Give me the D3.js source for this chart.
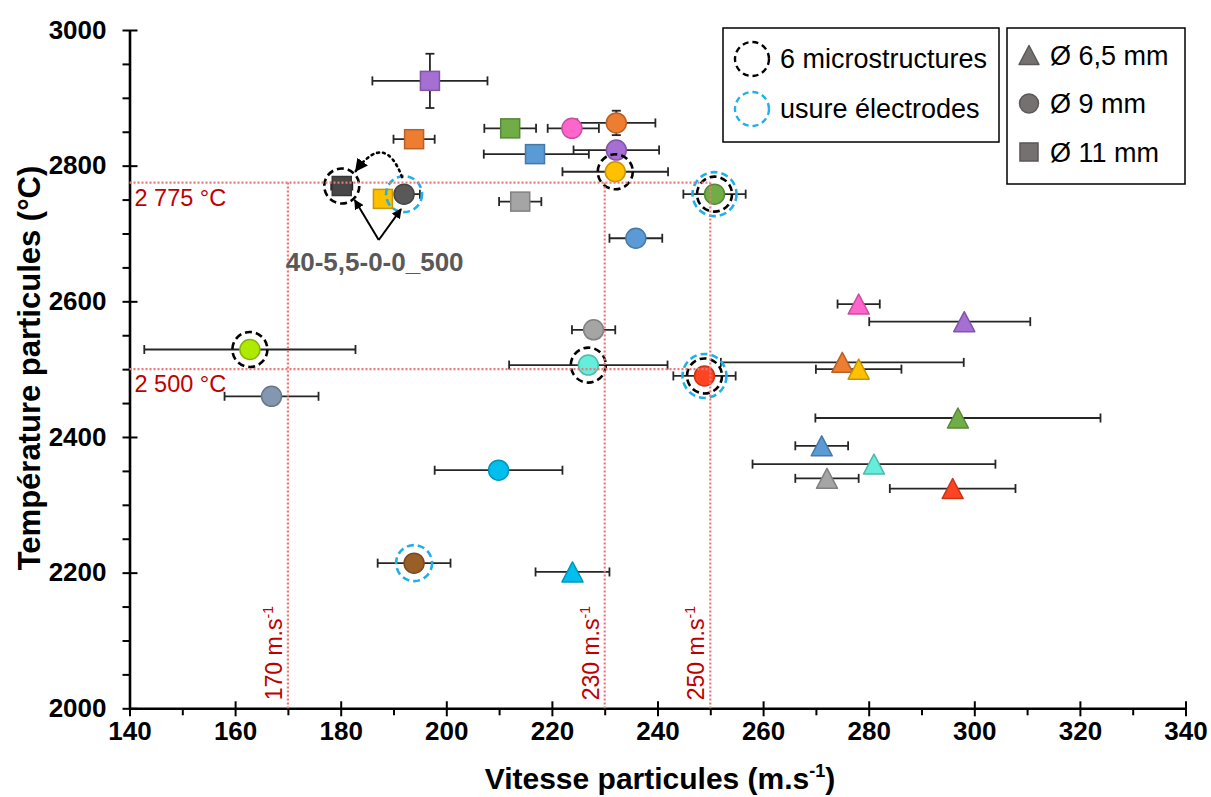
<!DOCTYPE html>
<html><head><meta charset="utf-8">
<script src="https://cdn.jsdelivr.net/npm/d3@7"></script>
<style>
body{margin:0;background:#fff}
svg{display:block}
text{font-family:"Liberation Sans",Arial,Helvetica,sans-serif}
</style>
</head><body>
<svg id="chart" width="1211" height="797"></svg>
<script>
// ---------- data ----------
const xDomain = [140, 340];
const yDomain = [2000, 3000];
const xTickValues = d3.range(140, 341, 20);
const xMinorTicks = d3.range(150, 340, 20);
const yTickValues = d3.range(2000, 3001, 200);
const yMinorTicks = d3.range(2050, 3000, 50).filter(v => v % 200 !== 0);

const xTitle = "Vitesse particules (m.s";
const yTitle = "Température particules (°C)";

// one entry per measured point
const shapes = ["square","square","square","square","square","square","square",
  "circle","circle","circle","circle","circle","circle","circle","circle","circle","circle","circle","circle","circle","circle",
  "triangle","triangle","triangle","triangle","triangle","triangle","triangle","triangle","triangle","triangle"];
const speeds = [196.9,193.9,212.1,216.8,214.0,188.0,180.2,
  192.0,223.8,232.2,232.2,232.0,250.8,235.9,227.9,226.9,248.9,162.8,166.9,209.9,193.9,
  223.9,278.1,298.1,275.0,278.1,296.9,271.1,281.0,272.1,295.9];
const temps = [2925,2839,2855,2817,2747,2751,2770,
  2758,2855,2863,2823,2791,2758,2693,2558,2506,2490,2529,2460,2351,2214,
  2201,2596,2570,2510,2500,2428,2387,2360,2339,2324];
const speedErrMinus = [10.9,3.9,4.9,9.7,4.0,0,2.0,
  0,4.6,7.4,8.1,10.0,5.9,5.0,4.1,15.0,5.9,20.0,8.9,12.1,6.9,
  7.0,4.0,18.0,23.0,8.1,27.0,5.0,23.0,6.0,11.9];
const speedErrPlus = [10.9,3.9,4.9,10.2,4.0,0,2.0,
  3.0,5.1,7.4,8.1,10.0,5.9,5.0,4.1,15.0,5.9,20.0,8.9,12.1,6.9,
  7.0,4.0,12.5,23.0,8.1,27.0,5.0,23.0,6.0,11.9];
const tempErr = [40,0,8,0,0,0,0,
  0,0,18,0,0,0,0,0,0,0,0,0,0,0,
  0,0,0,0,0,0,0,0,0,0];
const colors = ["#A56FD3","#ED7D31","#70AD47","#5B9BD5","#A5A5A5","#FFC000","#474747",
  "#595959","#FF66CC","#ED7D31","#A56FD3","#FFC000","#70AD47","#5B9BD5","#A5A5A5","#66EEDC","#FF4422","#AEEA00","#8497B0","#00BFEF","#9A5F27",
  "#00BFEF","#FF66CC","#A56FD3","#ED7D31","#FFC000","#70AD47","#5B9BD5","#66EEDC","#A5A5A5","#FF4422"];

// highlighted points (indices into the arrays above)
const microIdx = [6, 11, 12, 17, 15, 16];
const electrodeIdx = [7, 12, 16, 20];

const refSpeeds = [170, 230, 250];
const refTemps = [2775, 2500];
const refTempLabels = ["2 775 °C", "2 500 °C"];

const legendOutline = ["6 microstructures", "usure électrodes"];
const legendSizes = ["Ø 6,5 mm", "Ø 9 mm", "Ø 11 mm"];
const legendShapes = ["triangle", "circle", "square"];
const annotationLabel = "40-5,5-0-0_500";

// ---------- drawing ----------
const svg = d3.select("#chart");
const x = d3.scaleLinear().domain(xDomain).range([129.5, 1185.5]);
const y = d3.scaleLinear().domain(yDomain).range([708.3, 30]);
const RED = "#C00000", REDLINE = "#E8787A";

// axes
const xAxisG = svg.append("g").attr("transform", `translate(0,${y(2000)})`)
  .call(d3.axisBottom(x).tickValues(xTickValues).tickFormat(d3.format("d")).tickSizeOuter(0).tickSizeInner(8).tickPadding(5));
xAxisG.selectAll(".tick line").attr("y1", -7);
const xMinorG = svg.append("g").attr("transform", `translate(0,${y(2000)})`)
  .call(d3.axisBottom(x).tickValues(xMinorTicks).tickFormat("").tickSizeOuter(0).tickSizeInner(7));
xMinorG.select(".domain").remove();

const yAxisG = svg.append("g").attr("transform", `translate(${x(140)},0)`)
  .call(d3.axisLeft(y).tickValues(yTickValues).tickFormat(d3.format("d")).tickSizeOuter(0).tickSizeInner(7).tickPadding(16));
yAxisG.selectAll(".tick line").attr("x2", 8).attr("x1", -7);
const yMinorG = svg.append("g").attr("transform", `translate(${x(140)},0)`)
  .call(d3.axisLeft(y).tickValues(yMinorTicks).tickFormat("").tickSizeOuter(0).tickSizeInner(7));
yMinorG.select(".domain").remove();

svg.selectAll(".domain").attr("stroke", "#000").attr("stroke-width", 2.6);
svg.selectAll(".tick line").attr("stroke", "#000").attr("stroke-width", 2);
svg.selectAll(".tick text").style("font-size", "26px").attr("font-weight", "bold").attr("fill", "#000")
  .style("font-family", '"Liberation Sans",Arial,sans-serif');

// axis titles
const xt = svg.append("text").attr("x", 660).attr("y", 789).attr("text-anchor", "middle")
  .attr("font-size", 30).attr("font-weight", "bold").text(xTitle);
xt.append("tspan").attr("font-size", 18).attr("dy", -12).text("-1");
xt.append("tspan").attr("dy", 12).text(")");
svg.append("text").attr("transform", `translate(40,${368}) rotate(-90)`).attr("text-anchor", "middle")
  .attr("font-size", 31).attr("font-weight", "bold").text(yTitle);

// error bars
const idx = d3.range(speeds.length);
const eb = svg.append("g").attr("stroke", "#262626").attr("stroke-width", 1.8);
idx.forEach(i => {
  const cx = x(speeds[i]), cy = y(temps[i]);
  if (speedErrMinus[i] > 0 || speedErrPlus[i] > 0) {
    const x0 = x(speeds[i] - speedErrMinus[i]), x1 = x(speeds[i] + speedErrPlus[i]);
    eb.append("line").attr("x1", x0).attr("x2", x1).attr("y1", cy).attr("y2", cy);
    if (speedErrMinus[i] > 0) eb.append("line").attr("x1", x0).attr("x2", x0).attr("y1", cy - 4.5).attr("y2", cy + 4.5);
    if (speedErrPlus[i] > 0) eb.append("line").attr("x1", x1).attr("x2", x1).attr("y1", cy - 4.5).attr("y2", cy + 4.5);
  }
  if (tempErr[i] > 0) {
    const y0 = y(temps[i] - tempErr[i]), y1 = y(temps[i] + tempErr[i]);
    eb.append("line").attr("x1", cx).attr("x2", cx).attr("y1", y0).attr("y2", y1);
    [y0, y1].forEach(yy => eb.append("line").attr("x1", cx - 4.5).attr("x2", cx + 4.5).attr("y1", yy).attr("y2", yy));
  }
});

function drawShape(g, shape, cx, cy, fill, scale = 1) {
  const stroke = d3.color(fill).darker(0.7).formatHex();
  if (shape === "circle") {
    g.append("circle").attr("cx", cx).attr("cy", cy).attr("r", 10 * scale)
      .attr("fill", fill).attr("stroke", stroke).attr("stroke-width", 1.5);
  } else if (shape === "square") {
    const s = 19 * scale;
    g.append("rect").attr("x", cx - s / 2).attr("y", cy - s / 2).attr("width", s).attr("height", s)
      .attr("fill", fill).attr("stroke", stroke).attr("stroke-width", 1.5);
  } else {
    const w = 10.5 * scale, h = 10 * scale;
    g.append("path").attr("d", `M${cx},${cy - h}L${cx + w},${cy + h}L${cx - w},${cy + h}Z`)
      .attr("fill", fill).attr("stroke", stroke).attr("stroke-width", 1.5).attr("stroke-linejoin", "round");
  }
}

const mk = svg.append("g");
idx.forEach(i => drawShape(mk, shapes[i], x(speeds[i]), y(temps[i]), colors[i]));

// highlight rings
const rings = svg.append("g").attr("fill", "none");
electrodeIdx.forEach(i => {
  const both = microIdx.includes(i);
  rings.append("circle").attr("cx", x(speeds[i])).attr("cy", y(temps[i])).attr("r", both ? 22 : 18)
    .attr("stroke", "#1FB0EA").attr("stroke-width", 2.6).attr("stroke-dasharray", "7,4");
});
microIdx.forEach(i => {
  rings.append("circle").attr("cx", x(speeds[i])).attr("cy", y(temps[i])).attr("r", 17.5)
    .attr("stroke", "#000").attr("stroke-width", 2.6).attr("stroke-dasharray", "7,4");
});

// red reference lines
const ref = svg.append("g").attr("stroke", REDLINE).attr("stroke-width", 2.2).attr("stroke-dasharray", "2,2");
refTemps.forEach(t => ref.append("line").attr("x1", x(140)).attr("x2", x(250)).attr("y1", y(t)).attr("y2", y(t)));
refSpeeds.forEach(s => ref.append("line").attr("x1", x(s)).attr("x2", x(s)).attr("y1", y(2775)).attr("y2", y(2000)));
refTemps.forEach((t, k) => svg.append("text").attr("x", x(140) + 5).attr("y", y(t) + 23)
  .attr("font-size", 23.5).attr("fill", RED).text(refTempLabels[k]));
refSpeeds.forEach(s => {
  const t = svg.append("text").attr("transform", `translate(${x(s) - 6},${y(2000) - 8}) rotate(-90)`)
    .attr("font-size", 23).attr("fill", RED).text(s + " m.s");
  t.append("tspan").attr("font-size", 14).attr("dy", -9).text("-1");
});

// annotation
const defs = svg.append("defs");
defs.append("marker").attr("id", "ah").attr("viewBox", "0 0 10 10").attr("refX", 9).attr("refY", 5)
  .attr("markerWidth", 5).attr("markerHeight", 5).attr("orient", "auto-start-reverse")
  .append("path").attr("d", "M0,0L10,5L0,10Z").attr("fill", "#000");
const sq = 6, ci = 7;
const ox = x(speeds[sq]) + 37, oy = y(temps[sq]) + 54;
svg.append("line").attr("x1", ox).attr("y1", oy).attr("x2", x(speeds[sq]) + 13).attr("y2", y(temps[sq]) + 14)
  .attr("stroke", "#000").attr("stroke-width", 2).attr("marker-end", "url(#ah)");
svg.append("line").attr("x1", ox).attr("y1", oy).attr("x2", x(speeds[ci]) - 3).attr("y2", y(temps[ci]) + 15)
  .attr("stroke", "#000").attr("stroke-width", 2).attr("marker-end", "url(#ah)");
const sx = x(speeds[ci]) - 2, sy = y(temps[ci]) - 17;
const ex = x(speeds[sq]) + 14, ey = y(temps[sq]) - 15;
svg.append("path").attr("d", `M${sx},${sy} Q${(sx + ex) / 2 + 6},${sy - 46} ${ex},${ey}`)
  .attr("fill", "none").attr("stroke", "#000").attr("stroke-width", 2.6).attr("stroke-dasharray", "2,4")
  .attr("stroke-linecap", "round").attr("marker-end", "url(#ah)");
svg.append("text").attr("x", x(speeds[sq]) - 56).attr("y", y(temps[sq]) + 85)
  .attr("font-size", 26).attr("font-weight", "bold").attr("fill", "#595959").text(annotationLabel);

// legends
const lg1 = svg.append("g");
lg1.append("rect").attr("x", 723).attr("y", 28).attr("width", 276).attr("height", 114)
  .attr("fill", "#fff").attr("stroke", "#000").attr("stroke-width", 1.5);
legendOutline.forEach((lab, k) => {
  const cy = 59 + k * 50;
  lg1.append("circle").attr("cx", 752).attr("cy", cy).attr("r", 17).attr("fill", "none")
    .attr("stroke", k === 0 ? "#000" : "#1FB0EA").attr("stroke-width", 2.4).attr("stroke-dasharray", "6,4");
  lg1.append("text").attr("x", 780).attr("y", cy + 9).attr("font-size", 27).attr("fill", "#000").text(lab);
});
const lg2 = svg.append("g");
lg2.append("rect").attr("x", 1007).attr("y", 28).attr("width", 178).attr("height", 156)
  .attr("fill", "#fff").attr("stroke", "#000").attr("stroke-width", 1.5);
legendSizes.forEach((lab, k) => {
  const cy = 55 + k * 48.5;
  drawShape(lg2, legendShapes[k], 1029, cy, "#767171", 0.95);
  lg2.append("text").attr("x", 1050).attr("y", cy + 9.5).attr("font-size", 27).attr("fill", "#000").text(lab);
});
</script>
</body></html>
